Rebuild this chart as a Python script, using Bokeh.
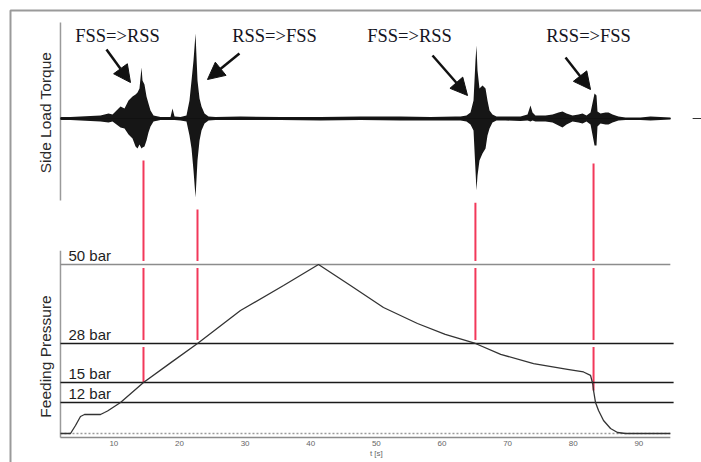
import numpy as np
from bokeh.plotting import figure
from bokeh.models import Range1d, Arrow, NormalHead, ColumnDataSource
from bokeh.core.properties import value
from bokeh.embed import file_html
from bokeh.resources import INLINE

# ---------------- data ----------------
# side load torque: envelope of the vibration trace (arbitrary units)
torque_t = [1.87, 3.40, 4.92, 6.45, 7.97, 9.19, 9.80, 10.41, 11.02, 11.63, 12.24, 12.85,
            13.31, 13.61, 13.91, 14.22, 14.37, 14.67, 14.98, 15.28, 15.59, 16.05, 17.11,
            18.64, 18.94, 19.25, 20.16, 21.07, 21.53, 21.84, 22.14, 22.45, 22.75, 23.06,
            23.36, 23.82, 24.43, 25.49, 29.30, 35.40, 41.49, 47.59, 53.68, 58.25, 62.06,
            62.83, 63.74, 64.35, 64.81, 65.11, 65.26, 65.42, 65.72, 66.18, 66.64, 66.94,
            67.25, 67.70, 68.31, 69.68, 71.97, 73.04, 73.49, 73.80, 74.25, 75.78, 76.85,
            77.76, 78.37, 78.98, 79.90, 80.81, 81.42, 82.03, 82.64, 83.25, 83.55, 83.70,
            84.16, 84.92, 85.38, 85.99, 86.90, 87.97, 90.26, 91.78, 94.83]
torque_hi = [.019, .019, .025, .031, .0375, .0625, .05, .1, .15, .125, .225, .275,
             .30, .325, .375, .6375, .475, .425, .275, .1875, .1, .0375, .019,
             .019, .125, .025, .019, .0375, .225, .475, .725, 1.0625, .475, .25,
             .15, .0625, .025, .019, .025, .019, .019, .025, .025, .019, .025,
             .025, .0375, .075, .225, .725, .9125, .6, .375, .4125, .375, .225,
             .1, .05, .025, .025, .025, .05, .1625, .075, .0375, .0375, .05,
             .075, .0875, .0625, .0375, .05, .0625, .0375, .075, .3125, .2875, .0875,
             .0625, .075, .075, .05, .025, .0125, .0125, .025, .0125]
torque_lo = [-.019, -.019, -.025, -.031, -.0375, -.05, -.0375, -.075, -.1125, -.125, -.2, -.25,
             -.35, -.375, -.325, -.375, -.3625, -.35, -.275, -.175, -.1, -.0375, -.019,
             -.019, -.019, -.019, -.025, -.0375, -.2125, -.375, -.65, -.9875, -.525, -.275,
             -.15, -.0625, -.025, -.019, -.019, -.019, -.025, -.019, -.025, -.025, -.025,
             -.025, -.0375, -.075, -.15, -.65, -.9, -.7125, -.525, -.4375, -.375, -.2125,
             -.125, -.05, -.025, -.025, -.031, -.025, -.0375, -.025, -.0375, -.0375, -.05,
             -.0875, -.1125, -.075, -.0375, -.05, -.0625, -.0375, -.075, -.3375, -.3375, -.1,
             -.0625, -.075, -.075, -.05, -.025, -.019, -.019, -.025, -.0125]
tail_t = [98.2, 99.6]          # short piece of trace right of the axis
tail_v = [0.0, 0.0]

# feeding pressure curve (schematic plot units)
pressure_t = [1.87, 3.40, 4.16, 4.92, 5.53, 7.97, 8.58, 9.04, 11.02, 14.52, 18.64, 22.75,
              29.30, 35.86, 41.19, 46.06, 51.09, 56.27, 60.50, 65.10, 68.95, 73.96, 79.13,
              81.57, 82.64, 83.00, 83.10, 83.40, 83.86, 84.62, 85.69, 86.75, 87.97, 94.80]
pressure_v = [0.0, 0.0, 2.37, 5.03, 5.62, 5.62, 6.21, 6.66, 9.17, 15.09, 20.90, 26.63,
              36.39, 43.80, 50.0, 43.79, 37.28, 32.54, 29.30, 26.63, 23.40, 20.70, 19.00,
              18.20, 17.20, 14.50, 12.72, 9.17, 6.80, 3.85, 1.48, 0.3, 0.0, 0.0]

level_labels = ["50 bar", "28 bar", "15 bar", "12 bar"]
level_pos = [50.0, 26.63, 15.09, 9.17]     # drawn height of each reference line

event_t = [14.52, 22.75, 65.10, 83.10]
event_labels = ["FSS=>RSS", "RSS=>FSS", "FSS=>RSS", "RSS=>FSS"]

tick_values = [10, 20, 30, 40, 50, 60, 70, 80, 90]
tick_labels = [str(v) for v in tick_values]

# ---------------- layout / positions ----------------
T_MIN, T_MAX = 1.87, 94.8
AXIS_Y = -1.183                               # bottom axis line (plot units)
event_top = [80.8, 66.3, 68.3, 79.9]          # upper end of the red markers (plot units)
label_t = [10.56, 34.48, 55.05, 82.34]
label_y = 1.0375
arrow_x0 = [8.88, 29.14, 58.56, 78.83]
arrow_y0 = [0.8625, 0.8125, 0.7875, 0.7625]
arrow_x1 = [12.54, 24.27, 63.90, 82.64]
arrow_y1 = [0.45, 0.4875, 0.2875, 0.3625]

RED = "#f2385a"
GRAY = "#9a9a9a"

p = figure(width=701, height=462, output_backend="svg", toolbar_location=None,
           x_range=Range1d(-7.269, 99.55), y_range=Range1d(-8.58, 128.1),
           x_axis_location=None, y_axis_location=None, min_border=0,
           outline_line_color=None,
           background_fill_color="white", border_fill_color="white")
p.extra_y_ranges = {"torque": Range1d(-4.3, 1.475)}
p.xgrid.visible = False
p.ygrid.visible = False

# outer frame of the figure picture
p.line([-5.745, -5.745, 101], [-9, 125.15, 125.15], line_color=GRAY, line_width=2)

# ---- torque panel ----
p.line([T_MIN, T_MIN], [1.2, -1.025], y_range_name="torque", line_color=GRAY, line_width=1.5)
p.varea(x=torque_t, y1=torque_lo, y2=torque_hi, y_range_name="torque", fill_color="#161616")
p.line(torque_t, [0.0] * len(torque_t), y_range_name="torque", line_color="#111111", line_width=1.2)
p.line(tail_t, tail_v, y_range_name="torque", line_color="#333333", line_width=1.2)

p.text(x=label_t, y=[label_y] * 4, text=event_labels, y_range_name="torque",
       text_font=value("Liberation Serif"), text_font_size="18.5px", text_color="#15151f",
       text_align="center", text_baseline="middle")

arrows = ColumnDataSource(dict(x0=arrow_x0, y0=arrow_y0, x1=arrow_x1, y1=arrow_y1))
p.add_layout(Arrow(end=NormalHead(size=17, fill_color="#111111", line_color="#111111"),
                   x_start="x0", y_start="y0", x_end="x1", y_end="y1", source=arrows,
                   line_color="#111111", line_width=2.5, y_range_name="torque"))

p.text(x=[-0.41], y=[0.075], text=["Side Load Torque"], y_range_name="torque", angle=np.pi / 2,
       text_font=value("Liberation Sans"), text_font_size="15.5px", text_color="#2a2a2a",
       text_align="center", text_baseline="middle")

# ---- pressure panel ----
event_bottom = list(np.interp(event_t, pressure_t, pressure_v))
p.segment(x0=event_t, y0=event_bottom, x1=event_t, y1=event_top, line_color=RED, line_width=2)

# white halo where the markers are interrupted at the 50/28 bar lines
p.segment(x0=[T_MIN] * 2, y0=level_pos[:2], x1=[T_MAX] * 2, y1=level_pos[:2],
          line_color="white", line_width=7)

p.line([T_MIN, T_MIN], [54.1, AXIS_Y], line_color=GRAY, line_width=1.5)
p.line([T_MIN, T_MAX], [AXIS_Y, AXIS_Y], line_color="#8a8a8a", line_width=1.5)
p.line([T_MIN, T_MAX], [0, 0], line_color="#9a9a9a", line_width=1.5, line_dash="2 2")

p.segment(x0=[T_MIN], y0=level_pos[:1], x1=[T_MAX], y1=level_pos[:1],
          line_color="#8c8c8c", line_width=1.6)
p.segment(x0=[T_MIN] * 3, y0=level_pos[1:], x1=[95.3] * 3, y1=level_pos[1:],
          line_color="#1a1a1a", line_width=1.4)

p.line(pressure_t, pressure_v, line_color="#333333", line_width=1.3)

p.text(x=[T_MIN] * 4, y=level_pos, text=level_labels, x_offset=8, y_offset=-9,
       text_font=value("Liberation Sans"), text_font_size="15px", text_color="#1e1e1e",
       text_align="left", text_baseline="middle")

p.text(x=[-0.41], y=[22.78], text=["Feeding Pressure"], angle=np.pi / 2,
       text_font=value("Liberation Sans"), text_font_size="15.5px", text_color="#2a2a2a",
       text_align="center", text_baseline="middle")

# bottom axis tick labels and title
p.text(x=tick_values, y=[AXIS_Y] * len(tick_values), text=tick_labels, y_offset=6,
       text_font=value("Liberation Sans"), text_font_size="8px", text_color="#666666",
       text_align="center", text_baseline="middle")
p.text(x=[50], y=[AXIS_Y], text=["t [s]"], y_offset=16,
       text_font=value("Liberation Sans"), text_font_size="8px", text_color="#666666",
       text_align="center", text_baseline="middle")

open("out.html", "w").write(file_html(p, INLINE))
